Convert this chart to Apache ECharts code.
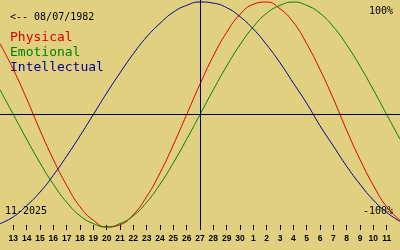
<!DOCTYPE html>
<html><head><meta charset="utf-8">
<script src="https://cdn.jsdelivr.net/npm/echarts@6/dist/echarts.min.js"></script>
<style>html,body{margin:0;padding:0;background:#e0d080;}#c{width:400px;height:250px;}</style>
</head><body><div id="c"></div>
<script>
const dayLabels = ['12','13','14','15','16','17','18','19','20','21','22','23','24','25','26','27','28','29','30','1','2','3','4','5','6','7','8','9','10','11','12'];
const physical = [63,40,14,-14,-40,-63,-82,-94,-100,-98,-89,-73,-52,-27,0,27,52,73,89,98,100,94,82,63,40,14,-14,-40,-63,-82,-94];
const emotional = [22,0,-22,-43,-62,-78,-90,-97,-100,-97,-90,-78,-62,-43,-22,0,22,43,62,78,90,97,100,97,90,78,62,43,22,0,-22];
const intellectual = [-97,-91,-81,-69,-54,-37,-19,0,19,37,54,69,81,91,97,100,99,95,87,76,62,46,28,10,-10,-28,-46,-62,-76,-87,-95];
const seriesNames = ['Physical','Emotional','Intellectual'];
const colors = ['#e00000','#008000','#000090'];
const today = '27';
const birthText = '<-- 08/07/1982';
const monthText = '11-2025';
const topText = '100%';
const bottomText = '-100%';

const chart = echarts.init(document.getElementById('c'), null, {renderer:'canvas'});
const mono = '"DejaVu Sans Mono", monospace';
const lastIdx = dayLabels.length - 1;
const showIdx = (i) => i !== 0 && i !== lastIdx;
chart.setOption({
  animation: false,
  backgroundColor: '#e0d080',
  grid: {left: 0, right: 0, top: 0, bottom: 20},
  xAxis: {
    type: 'category', boundaryGap: false, data: dayLabels,
    axisLine: {show: false, onZero: false},
    axisTick: {show: true, inside: true, length: 5, interval: showIdx, lineStyle: {color: '#000', width: 1}},
    axisLabel: {interval: showIdx, color: '#000', fontSize: 8.5, fontWeight: 'bold', fontFamily: '"Liberation Sans", sans-serif', margin: 4},
    splitLine: {show: false}
  },
  yAxis: {type: 'value', min: -102.67, max: 101.78, show: false},
  graphic: [
    {type: 'text', left: 10, top: 12, style: {text: birthText, font: '10px ' + mono, fill: '#000'}},
    {type: 'text', left: 10, top: 31, style: {text: seriesNames[0], font: '13px ' + mono, fill: colors[0]}},
    {type: 'text', left: 10, top: 46, style: {text: seriesNames[1], font: '13px ' + mono, fill: colors[1]}},
    {type: 'text', left: 10, top: 61, style: {text: seriesNames[2], font: '13px ' + mono, fill: colors[2]}},
    {type: 'text', right: 7, top: 6, style: {text: topText, font: '10px ' + mono, fill: '#000'}},
    {type: 'text', left: 5, top: 206, style: {text: monthText, font: '10px ' + mono, fill: '#000'}},
    {type: 'text', right: 7, top: 206, style: {text: bottomText, font: '10px ' + mono, fill: '#000'}}
  ],
  series: [
    {name: seriesNames[0], type: 'line', data: physical, smooth: true, showSymbol: false, lineStyle: {width: 1, color: colors[0]}, itemStyle:{color: colors[0]}},
    {name: seriesNames[1], type: 'line', data: emotional, smooth: true, showSymbol: false, lineStyle: {width: 1, color: colors[1]}, itemStyle:{color: colors[1]}},
    {name: seriesNames[2], type: 'line', data: intellectual, smooth: true, showSymbol: false, lineStyle: {width: 1, color: colors[2]}, itemStyle:{color: colors[2]},
     markLine: {silent: true, symbol: 'none', label: {show: false}, lineStyle: {color: '#000', width: 1, type: 'solid'},
       data: [{xAxis: today}, {yAxis: 0}]}}
  ]
});
</script></body></html>
